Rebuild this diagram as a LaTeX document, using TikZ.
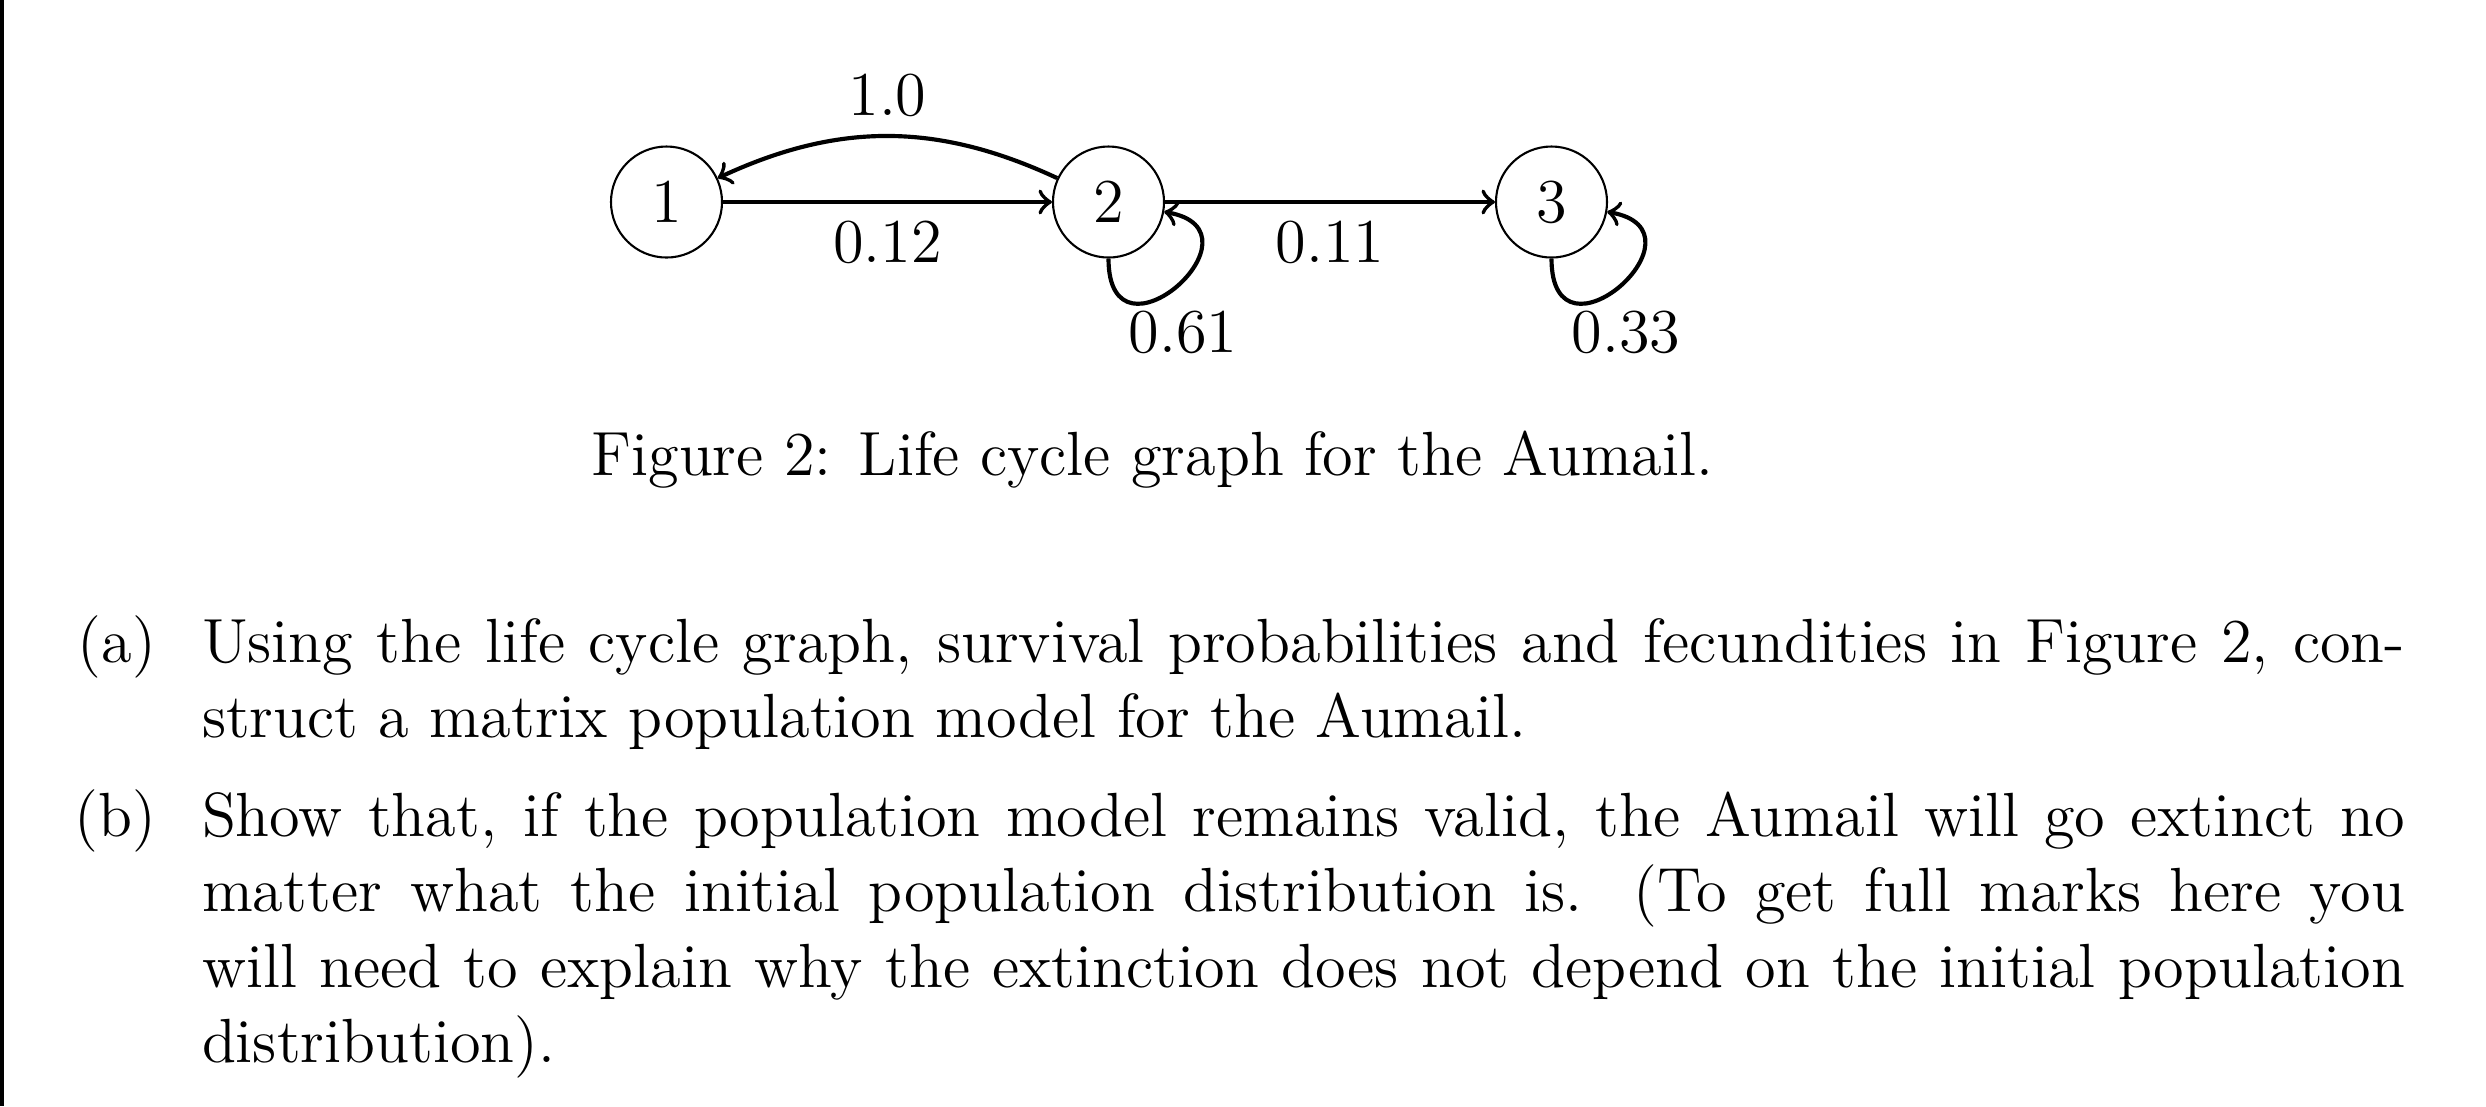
\documentclass[tikz,border=0pt]{standalone}
\begin{document}
\begin{tikzpicture}[x=0.19231pt, y=-0.19231pt,
  every node/.style={font=\fontsize{12}{14.5}\selectfont},
  state/.style={draw, circle, line width=0.4pt, minimum size=21.35pt, inner sep=0pt},
  edgeline/.style={->, line width=0.8pt},
  selfloop/.style={out=-90, in=-10, out distance=22.5pt, in distance=21pt},
  looplabel/.style={pos=0.5, below, xshift=1.2pt, yshift=-1.1pt},
  bodytext/.style={anchor=base west, inner sep=0pt, text width=423.66pt, align=justify},
  itemlabel/.style={anchor=base east, inner sep=0pt}
]
\useasboundingbox (0,0) rectangle (2486,1106);
\fill[black] (0,0) rectangle (4,1106);

\node[state] (n1) at (666.5,202) {1};
\node[state] (n2) at (1108.5,202) {2};
\node[state] (n3) at (1551.5,202) {3};

\draw[edgeline] (n1) -- node[below] (l12) {0.12} (n2);
\draw[edgeline] (n2) to[bend right=25] node[above] (l10) {1.0} (n1);
\draw[edgeline] (n2) -- node[below] (l11) {0.11} (n3);
\draw[edgeline] (n2) to[selfloop] node[looplabel] (l61) {0.61} (n2);
\draw[edgeline] (n3) to[selfloop] node[looplabel] (l33) {0.33} (n3);

\node[anchor=base] (cap) at (1152.5,475) {Figure 2: Life cycle graph for the Aumail.};

\node[itemlabel] (la) at (157,662) {(a)};
\node[bodytext] (ta) at (201,662) {Using the life cycle graph, survival probabilities and fecundities in Figure 2, con-\linebreak struct a matrix population model for the Aumail.};

\node[itemlabel] (lb) at (157,836.5) {(b)};
\node[bodytext] (tb) at (201,836.5) {Show that, if the population model remains valid, the Aumail will go extinct no\linebreak matter what the initial population distribution is. (To get full marks here you\linebreak will need to explain why the extinction does not depend on the initial population\linebreak distribution).};
\end{tikzpicture}
\end{document}
